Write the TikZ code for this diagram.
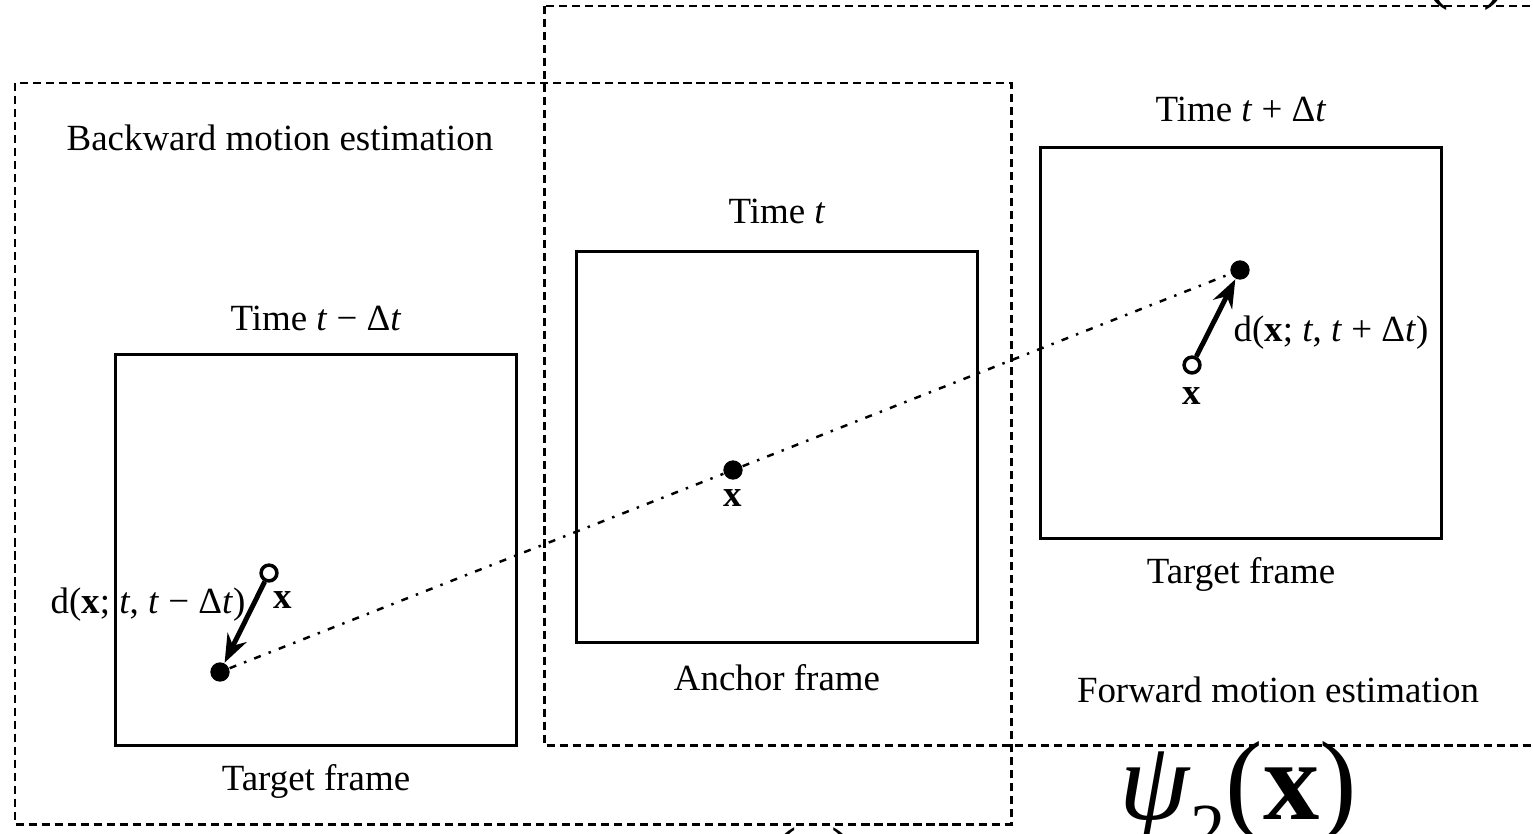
\documentclass[tikz,border=0pt]{standalone}
\usepackage{fontspec}
\setmainfont{Liberation Serif}
\usetikzlibrary{positioning,arrows.meta}

\begin{document}
\begin{tikzpicture}[
    x=0.01cm, y=-0.01cm,
    node distance=0.2cm,
    frame/.style={rectangle, draw, line width=0.9pt, minimum width=4cm, minimum height=3.9cm, inner sep=0pt},
    region/.style={line width=0.85pt, dash pattern=on 2.3pt off 1.4pt},
    lbl/.style={inner sep=0pt, font=\fontsize{10.5}{12}\selectfont},
    track/.style={line width=0.7pt, dash pattern=on 2pt off 2.4pt on 0.7pt off 2.4pt},
    motion/.style={-{Stealth[length=8pt,width=6pt]}, line width=1.4pt},
    pt/.style={circle, fill, inner sep=0pt, minimum size=5.5pt},
    opt/.style={circle, draw, line width=1pt, inner sep=0pt, minimum size=4.5pt}
]
    \useasboundingbox (0,0) rectangle (1533,833);
    \clip (0,0) rectangle (1533,833);

    % Estimation regions
    \draw[region] (15,83) rectangle (1011,824);
    \draw[region] (544,6) rectangle (1560,745);
    \node[lbl] (bwd) at (280,138) {Backward motion estimation};
    \node[lbl] (fwd) at (1278,690) {Forward motion estimation};

    % Frames
    \node[frame] (prev) at (316,550) {};
    \node[frame] (anchor) at (777,447) {};
    \node[frame] (next) at (1241,343) {};

    \node[lbl, above=0.22cm of prev] (tprev) {Time \textit{t} − Δ\textit{t}};
    \node[lbl, above=0.26cm of anchor] (tanchor) {Time \textit{t}};
    \node[lbl, above=0.24cm of next] (tnext) {Time \textit{t} + Δ\textit{t}};
    \node[lbl, below=0.17cm of prev] (lprev) {Target frame};
    \node[lbl, below=0.2cm of anchor] (lanchor) {Anchor frame};
    \node[lbl, below=0.17cm of next] (lnext) {Target frame};

    % Points
    \node[pt] (pprev) at (220,672) {};
    \node[pt] (panchor) at (733,470) {};
    \node[pt] (pnext) at (1240,270) {};
    \node[opt] (oprev) at (269,573) {};
    \node[opt] (onext) at (1192,365) {};

    \node[lbl, below=0.08cm of panchor] (xanchor) {\textbf{x}};
    \node[lbl, below=0.12cm of onext] (xnext) {\textbf{x}};
    \node[lbl] (xprev) at (283,600) {\textbf{x}};

    \draw[track] (pprev) -- (panchor) -- (pnext);
    \draw[motion] (oprev) -- (pprev);
    \draw[motion] (onext) -- (pnext);

    \node[lbl] (dprev) at (148,605) {d(\textbf{x}; \textit{t}, \textit{t} − Δ\textit{t})};
    \node[lbl] (dnext) at (1331,333) {d(\textbf{x}; \textit{t}, \textit{t} + Δ\textit{t})};

    % Weights
    \node[anchor=base, inner sep=0pt, font=\fontsize{32}{38}\selectfont] (psi) at (1238,819)
        {\textit{ψ}\raisebox{-0.3em}{\fontsize{20}{20}\selectfont 2}(\textbf{x})};
    \node[anchor=base, inner sep=0pt, font=\fontsize{20}{24}\selectfont] (wlow) at (814,876) {(\textbf{x})};
    \node[anchor=base, inner sep=0pt, font=\fontsize{20}{24}\selectfont] (wtop) at (1466,-5) {(\textbf{x})};
\end{tikzpicture}
\end{document}
